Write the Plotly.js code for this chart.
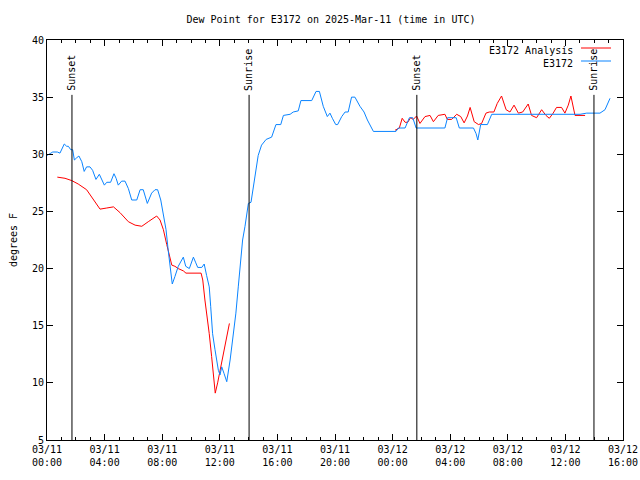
<!DOCTYPE html>
<html><head><meta charset="utf-8">
<script src="https://cdn.plot.ly/plotly-3.0.1.min.js"></script>
<style>body{margin:0;background:#fff}</style>
</head><body><div id="chart" style="width:640px;height:480px"></div>
<script>
const chartTitle = 'Dew Point for E3172 on 2025-Mar-11 (time in UTC)';
const yTitle = 'degrees F';
const seriesNames = ['E3172 Analysis', 'E3172'];

const obsTimes = [
 '2025-03-11 00:00','2025-03-11 00:24','2025-03-11 00:43','2025-03-11 00:54','2025-03-11 01:12','2025-03-11 01:22','2025-03-11 01:29','2025-03-11 01:39','2025-03-11 01:47','2025-03-11 01:54',
 '2025-03-11 02:04','2025-03-11 02:13','2025-03-11 02:25','2025-03-11 02:35','2025-03-11 02:45','2025-03-11 02:59','2025-03-11 03:10','2025-03-11 03:24','2025-03-11 03:38','2025-03-11 03:48',
 '2025-03-11 03:59','2025-03-11 04:09','2025-03-11 04:25','2025-03-11 04:39','2025-03-11 04:48','2025-03-11 04:57','2025-03-11 05:11','2025-03-11 05:25','2025-03-11 05:39','2025-03-11 05:53',
 '2025-03-11 06:14','2025-03-11 06:28','2025-03-11 06:41','2025-03-11 06:58','2025-03-11 07:16','2025-03-11 07:30','2025-03-11 07:41','2025-03-11 07:54','2025-03-11 08:05','2025-03-11 08:16',
 '2025-03-11 08:25','2025-03-11 08:35','2025-03-11 08:42','2025-03-11 08:53','2025-03-11 09:07','2025-03-11 09:28','2025-03-11 09:38','2025-03-11 09:53','2025-03-11 10:03','2025-03-11 10:10',
 '2025-03-11 10:20','2025-03-11 10:28','2025-03-11 10:45','2025-03-11 10:55','2025-03-11 11:05','2025-03-11 11:16','2025-03-11 11:22','2025-03-11 11:30','2025-03-11 11:40','2025-03-11 11:54',
 '2025-03-11 12:01','2025-03-11 12:08','2025-03-11 12:18','2025-03-11 12:29','2025-03-11 12:43','2025-03-11 12:54','2025-03-11 13:07','2025-03-11 13:17','2025-03-11 13:24','2025-03-11 13:35',
 '2025-03-11 13:45','2025-03-11 13:55','2025-03-11 13:59','2025-03-11 14:10','2025-03-11 14:17','2025-03-11 14:27','2025-03-11 14:40','2025-03-11 14:54','2025-03-11 15:13','2025-03-11 15:36',
 '2025-03-11 15:54','2025-03-11 16:14','2025-03-11 16:25','2025-03-11 16:53','2025-03-11 17:06','2025-03-11 17:27','2025-03-11 17:38','2025-03-11 18:23','2025-03-11 18:41','2025-03-11 18:55',
 '2025-03-11 19:11','2025-03-11 19:28','2025-03-11 19:39','2025-03-11 19:49','2025-03-11 20:03','2025-03-11 20:11','2025-03-11 20:28','2025-03-11 20:42','2025-03-11 20:55','2025-03-11 21:09',
 '2025-03-11 21:23','2025-03-11 21:44','2025-03-11 22:01','2025-03-11 22:15','2025-03-11 22:40','2025-03-12 00:14','2025-03-12 00:24','2025-03-12 00:52','2025-03-12 01:10','2025-03-12 01:24',
 '2025-03-12 01:38','2025-03-12 03:38','2025-03-12 03:49','2025-03-12 04:25','2025-03-12 04:38','2025-03-12 05:37','2025-03-12 05:48','2025-03-12 05:55','2025-03-12 06:01','2025-03-12 06:07',
 '2025-03-12 06:35','2025-03-12 06:53','2025-03-12 13:01','2025-03-12 13:29','2025-03-12 14:24','2025-03-12 14:45','2025-03-12 15:06'
];
const obsValues = [
 29.9,30.2,30.2,30.1,30.9,30.7,30.7,30.4,30.4,29.5,
 29.7,29.85,29.35,28.5,28.9,28.9,28.6,27.8,28.25,27.75,
 27.3,27.55,27.55,28.3,27.9,27.3,27.65,27.65,27.0,26.0,
 26.0,26.9,26.9,25.7,26.6,26.9,26.9,26.0,24.8,23.4,
 21.6,19.9,18.65,19.3,20.2,21.0,20.2,20.0,20.5,21.0,
 20.5,20.1,20.1,20.4,19.4,18.4,16.7,14.3,12.9,11.1,
 10.7,11.4,10.8,10.1,12.0,13.75,16.1,18.4,20.2,22.5,
 23.7,25.1,25.7,25.8,26.7,28.3,29.9,30.8,31.3,31.5,
 32.6,32.6,33.4,33.5,33.7,33.8,34.7,34.7,35.5,35.5,
 34.2,33.3,33.6,33.15,32.6,32.6,33.3,33.7,33.7,35.0,
 35.0,34.2,33.7,33.0,32.0,32.0,32.3,32.3,33.2,33.2,
 32.3,32.3,33.2,33.2,32.3,32.3,31.8,31.25,32.0,32.6,
 32.6,33.5,33.5,33.6,33.6,33.9,34.9
];

const anaTimes = [
 '2025-03-11 00:43','2025-03-11 01:15','2025-03-11 01:43','2025-03-11 02:10','2025-03-11 02:45','2025-03-11 03:13','2025-03-11 03:41','2025-03-11 04:09','2025-03-11 04:37','2025-03-11 05:04',
 '2025-03-11 05:39','2025-03-11 06:07','2025-03-11 06:35','2025-03-11 07:02','2025-03-11 07:37','2025-03-11 07:51','2025-03-11 08:05','2025-03-11 08:19','2025-03-11 08:25','2025-03-11 08:33',
 '2025-03-11 08:40','2025-03-11 08:53','2025-03-11 09:07','2025-03-11 09:28','2025-03-11 09:39','2025-03-11 10:42','2025-03-11 10:49','2025-03-11 10:58','2025-03-11 11:08','2025-03-11 11:16',
 '2025-03-11 11:26','2025-03-11 11:33','2025-03-11 11:41','2025-03-11 11:51','2025-03-11 12:01','2025-03-11 12:12','2025-03-11 12:22','2025-03-11 12:31','2025-03-11 12:40','2025-03-11 18:00',
 '2025-03-12 00:10','2025-03-12 00:28','2025-03-12 00:40','2025-03-12 00:52','2025-03-12 01:03','2025-03-12 01:15','2025-03-12 01:26','2025-03-12 01:40','2025-03-12 01:54','2025-03-12 02:15',
 '2025-03-12 02:36','2025-03-12 02:50','2025-03-12 03:10','2025-03-12 03:38','2025-03-12 03:48','2025-03-12 04:06','2025-03-12 04:27','2025-03-12 04:44','2025-03-12 04:58','2025-03-12 05:12',
 '2025-03-12 05:23','2025-03-12 05:40','2025-03-12 05:58','2025-03-12 06:11','2025-03-12 06:29','2025-03-12 06:43','2025-03-12 07:02','2025-03-12 07:16','2025-03-12 07:34','2025-03-12 07:53',
 '2025-03-12 08:09','2025-03-12 08:26','2025-03-12 08:44','2025-03-12 09:02','2025-03-12 09:25','2025-03-12 09:39','2025-03-12 10:00','2025-03-12 10:21','2025-03-12 10:39','2025-03-12 10:53',
 '2025-03-12 11:09','2025-03-12 11:23','2025-03-12 11:44','2025-03-12 11:58','2025-03-12 12:12','2025-03-12 12:23','2025-03-12 12:40','2025-03-12 13:22'
];
const anaValues = [
 28.0,27.9,27.7,27.4,26.9,26.0,25.2,25.3,25.4,24.9,
 24.1,23.8,23.7,24.1,24.6,24.25,23.4,22.1,21.6,21.0,
 20.3,20.2,20.0,19.8,19.6,19.6,19.0,17.25,15.8,14.3,
 12.3,10.5,9.1,10.0,11.1,12.0,13.2,14.3,15.2,null,
 32.1,32.3,33.15,32.8,32.8,33.2,33.05,33.35,32.7,33.3,
 33.4,32.85,33.4,33.5,33.05,33.05,33.5,33.3,32.75,33.35,
 34.1,32.85,32.6,32.7,33.6,33.7,33.7,34.45,35.1,33.9,
 33.7,34.3,33.6,33.7,34.4,33.4,33.2,33.9,33.4,33.15,
 33.6,34.1,34.1,33.6,34.3,35.1,33.4,33.4
];

const eventTimes = ['2025-03-11 01:44','2025-03-11 14:02','2025-03-12 01:41','2025-03-12 13:59'];
const eventLabels = ['Sunset','Sunrise','Sunset','Sunrise'];
const eventTop = 35.2;

const xRange = ['2025-03-11 00:00','2025-03-12 16:00'];
const yRange = [5, 40];

const FONT = 'DejaVu Sans Mono, monospace';
const RED = '#ff0000';
const BLUE = '#0a84ff';

const traces = [
  {x: anaTimes, y: anaValues, type: 'scatter', mode: 'lines', name: seriesNames[0],
   line: {color: RED, width: 1}, connectgaps: false, showlegend: false},
  {x: obsTimes, y: obsValues, type: 'scatter', mode: 'lines', name: seriesNames[1],
   line: {color: BLUE, width: 1}, showlegend: false}
];

const shapes = eventTimes.map(t => ({
  type: 'line', xref: 'x', yref: 'y', x0: t, x1: t, y0: yRange[0], y1: eventTop,
  line: {color: '#000', width: 1}
}));
const annotations = eventTimes.map((t, i) => ({
  x: t, y: eventTop, xref: 'x', yref: 'y', text: eventLabels[i], showarrow: false,
  textangle: -90, yanchor: 'bottom', xanchor: 'center', yshift: 2,
  font: {family: FONT, size: 10, color: '#000'}
}));

// legend (gnuplot style: text on the left, sample line on the right)
const legendColors = [RED, BLUE];
const legendY = [50, 63];
seriesNames.forEach((n, i) => {
  annotations.push({xref: 'paper', yref: 'paper', x: (575-47)/576, y: 1 - (legendY[i]-40)/400,
    text: n, showarrow: false, xanchor: 'right', yanchor: 'middle',
    font: {family: FONT, size: 10, color: '#000'}});
  shapes.push({type: 'line', xref: 'paper', yref: 'paper',
    x0: (581-47)/576, x1: (611-47)/576,
    y0: 1 - (legendY[i]-2-40)/400, y1: 1 - (legendY[i]-2-40)/400,
    line: {color: legendColors[i], width: 1}});
});

const layout = {
  width: 640, height: 480,
  margin: {l: 47, r: 17, t: 40, b: 40},
  paper_bgcolor: '#fff', plot_bgcolor: '#fff',
  font: {family: FONT, size: 10, color: '#000'},
  title: {text: chartTitle, x: 331/640, xref: 'container', xanchor: 'center',
          y: 1 - 19/480, yref: 'container', yanchor: 'middle',
          font: {family: FONT, size: 10, color: '#000'}},
  xaxis: {type: 'date', range: xRange, dtick: 4*3600000, tick0: '2025-03-11 00:00',
          tickformat: '%m/%d<br>%H:%M', ticks: 'inside', ticklen: 6, tickcolor: '#000',
          showline: true, linecolor: '#000', linewidth: 1, mirror: 'ticks',
          showgrid: false, zeroline: false,
          minor: {dtick: 3600000, ticks: 'inside', ticklen: 3, tickcolor: '#000', showgrid: false},
          tickfont: {family: FONT, size: 10, color: '#000'}},
  yaxis: {range: yRange, dtick: 5, tick0: 0, ticks: 'inside', ticklen: 6, tickcolor: '#000',
          showline: true, linecolor: '#000', linewidth: 1, mirror: 'ticks',
          showgrid: false, zeroline: false,
          title: {text: yTitle, standoff: 12, font: {family: FONT, size: 10, color: '#000'}},
          tickfont: {family: FONT, size: 10, color: '#000'}},
  shapes: shapes,
  annotations: annotations,
  showlegend: false
};

Plotly.newPlot('chart', traces, layout, {staticPlot: true, displayModeBar: false});
</script>
</body></html>
